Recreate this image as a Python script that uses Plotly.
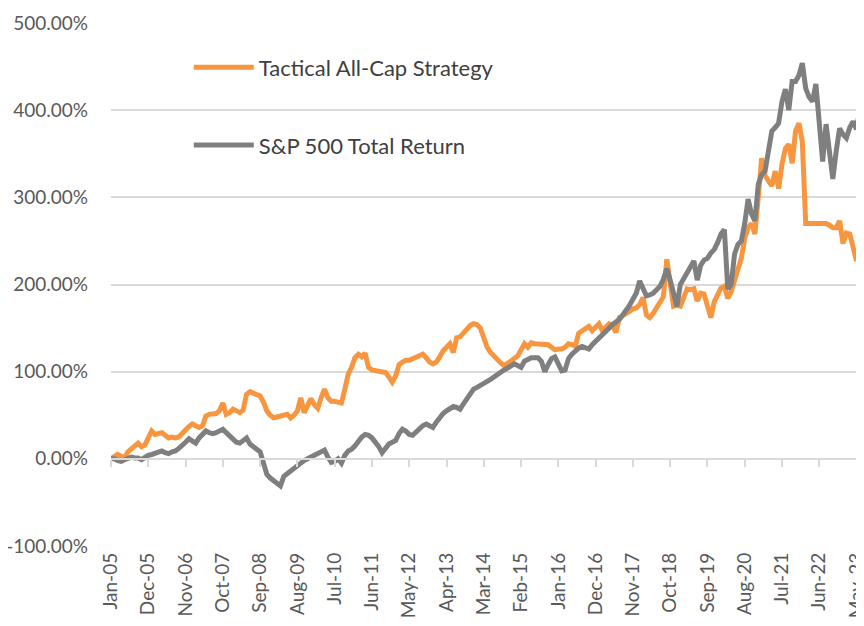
import plotly.graph_objects as go
import pandas as pd

# Monthly dates, Jan-05 onward
months = pd.date_range("2005-01-01", periods=224, freq="MS")
month_labels = [d.strftime("%b-%y") for d in months]

tactical = [
    0, 3, 5, 3, 1, 8, 12, 15, 18, 14,
    16, 24, 32, 28, 29, 30, 27, 24, 25, 24,
    25, 30, 33, 37, 40, 38, 36, 38, 49, 51,
    51, 52, 55, 64, 51, 53, 57, 55, 53, 56,
    74, 77, 75, 74, 72, 65, 55, 50, 47, 48,
    49, 49, 51, 47, 50, 55, 70, 53, 60, 69,
    62, 58, 70, 80, 70, 66, 66, 65, 64, 80,
    97, 105, 116, 120, 117, 121, 105, 102, 101, 100,
    99, 99, 94, 88, 95, 108, 111, 113, 113, 115,
    117, 118, 120, 116, 111, 109, 111, 117, 124, 128,
    132, 122, 139, 140, 145, 150, 153, 155, 154, 150,
    140, 128, 122, 118, 112, 110, 107, 109, 112, 115,
    118, 125, 132, 128, 133, 132, 132, 132, 132, 131,
    128, 125, 126, 126, 128, 132, 131, 129, 144, 147,
    150, 152, 147, 151, 155, 147, 152, 155, 153, 145,
    162, 164, 166, 169, 172, 173, 177, 185, 165, 162,
    167, 173, 180, 186, 229, 200, 175, 176, 175, 185,
    195, 194, 195, 181, 190, 189, 175, 162, 180, 189,
    196, 198, 184, 192, 205, 215, 230, 253, 265, 270,
    258, 300, 345, 325, 320, 313, 330, 310, 338, 356,
    361, 339, 376, 385, 364, 270, 270, 270, 270, 270,
    270, 270, 268, 265, 265, 273, 247, 259, 258, 240,
    227, 255, 290, 320,
]

sp500 = [
    0, 0, -2, -3, -1, 1, 2, 1, 1, -1,
    2, 4, 5, 6, 7, 9, 7, 6, 8, 9,
    12, 15, 19, 23, 20, 18, 24, 28, 32, 30,
    29, 30, 32, 34, 30, 26, 21, 19, 18, 22,
    24, 17, 13, 11, 8, -8, -18, -22, -25, -28,
    -31, -20, -17, -13, -10, -7, -4, -2, 0, 2,
    3, 5, 7, 10, 2, -4, -3, 0, -5, 4,
    9, 11, 15, 21, 25, 28, 27, 24, 20, 14,
    7, 13, 17, 19, 21, 29, 34, 32, 28, 27,
    31, 35, 38, 40, 38, 36, 42, 48, 52, 55,
    57, 60, 59, 57, 63, 69, 76, 80, 82, 84,
    86, 88, 91, 94, 97, 99, 102, 104, 107, 109,
    107, 105, 112, 114, 116, 116, 116, 112, 100, 108,
    115, 117, 108, 101, 102, 115, 120, 124, 127, 129,
    128, 126, 131, 135, 139, 143, 147, 150, 154, 157,
    160, 165, 170, 176, 183, 190, 204, 195, 187, 188,
    190, 194, 198, 206, 218, 205, 190, 175, 200, 207,
    212, 220, 227, 205, 222, 228, 230, 236, 240, 248,
    258, 263, 195, 200, 235, 246, 250, 270, 298, 281,
    273, 315, 326, 330, 355, 376, 380, 385, 410, 424,
    400, 433, 433, 440, 454, 425, 415, 410, 430, 387,
    341, 384, 356, 321, 353, 379, 372, 368, 380, 387,
    378, 402, 430, 450,
]

y_ticks = [-100, 0, 100, 200, 300, 400, 500]
y_tick_labels = ["-100.00%", "0.00%", "100.00%", "200.00%", "300.00%", "400.00%", "500.00%"]

x_idx = list(range(len(month_labels)))
tick_idx = list(range(0, len(month_labels), 11))
tick_text = [month_labels[i] for i in tick_idx]

FONT = "Lato"
ORANGE = "#F7963F"
GRAY = "#7F7F7F"
GRID = "#D9D9D9"

fig = go.Figure()
fig.add_trace(go.Scatter(
    x=x_idx, y=tactical, mode="lines", name="Tactical All-Cap Strategy",
    line=dict(color=ORANGE, width=5), legendgroup="a",
))
fig.add_trace(go.Scatter(
    x=x_idx, y=sp500, mode="lines", name="S&P 500 Total Return",
    line=dict(color=GRAY, width=5), legendgroup="b",
))
# invisible helper trace so the crossing axis (ticks on the 0% line) is drawn
fig.add_trace(go.Scatter(
    x=[0], y=[0], xaxis="x2", mode="markers", marker=dict(opacity=0),
    showlegend=False, hoverinfo="skip",
))

xr = [0, 222.2]
fig.update_layout(
    width=856, height=610,
    margin=dict(l=103, r=0, t=15, b=72, autoexpand=False),
    paper_bgcolor="white", plot_bgcolor="white",
    font=dict(family=FONT, size=19, color="#595959"),
    showlegend=True,
    legend=dict(
        x=0.1033, y=0.955, xanchor="left", yanchor="top",
        font=dict(family=FONT, size=22, color="#404040"),
        bgcolor="rgba(0,0,0,0)", tracegroupgap=46, itemwidth=60,
    ),
    xaxis=dict(
        range=xr, tickmode="array", tickvals=tick_idx, ticktext=tick_text,
        tickangle=-90, showgrid=False, zeroline=False, showline=False,
        ticks="", ticklabelstandoff=2, automargin=False,
        ticklabeloverflow="allow",
        tickfont=dict(family=FONT, size=19, color="#595959"),
    ),
    xaxis2=dict(
        range=xr, overlaying="x", anchor="free", position=1 / 6,
        tickmode="array", tickvals=tick_idx, showticklabels=False,
        ticks="outside", ticklen=7, tickcolor=GRID, tickwidth=1.5,
        showline=True, linecolor=GRID, linewidth=1.5,
        showgrid=False, zeroline=False, automargin=False,
    ),
    yaxis=dict(
        range=[-100, 500], tickmode="array", tickvals=y_ticks, ticktext=y_tick_labels,
        showgrid=True, gridcolor=GRID, gridwidth=1.5, zeroline=False,
        showline=False, ticks="", ticklabelstandoff=22, automargin=False,
        ticklabeloverflow="allow",
        tickfont=dict(family=FONT, size=19, color="#595959"),
    ),
)

fig.write_html("out.html")
